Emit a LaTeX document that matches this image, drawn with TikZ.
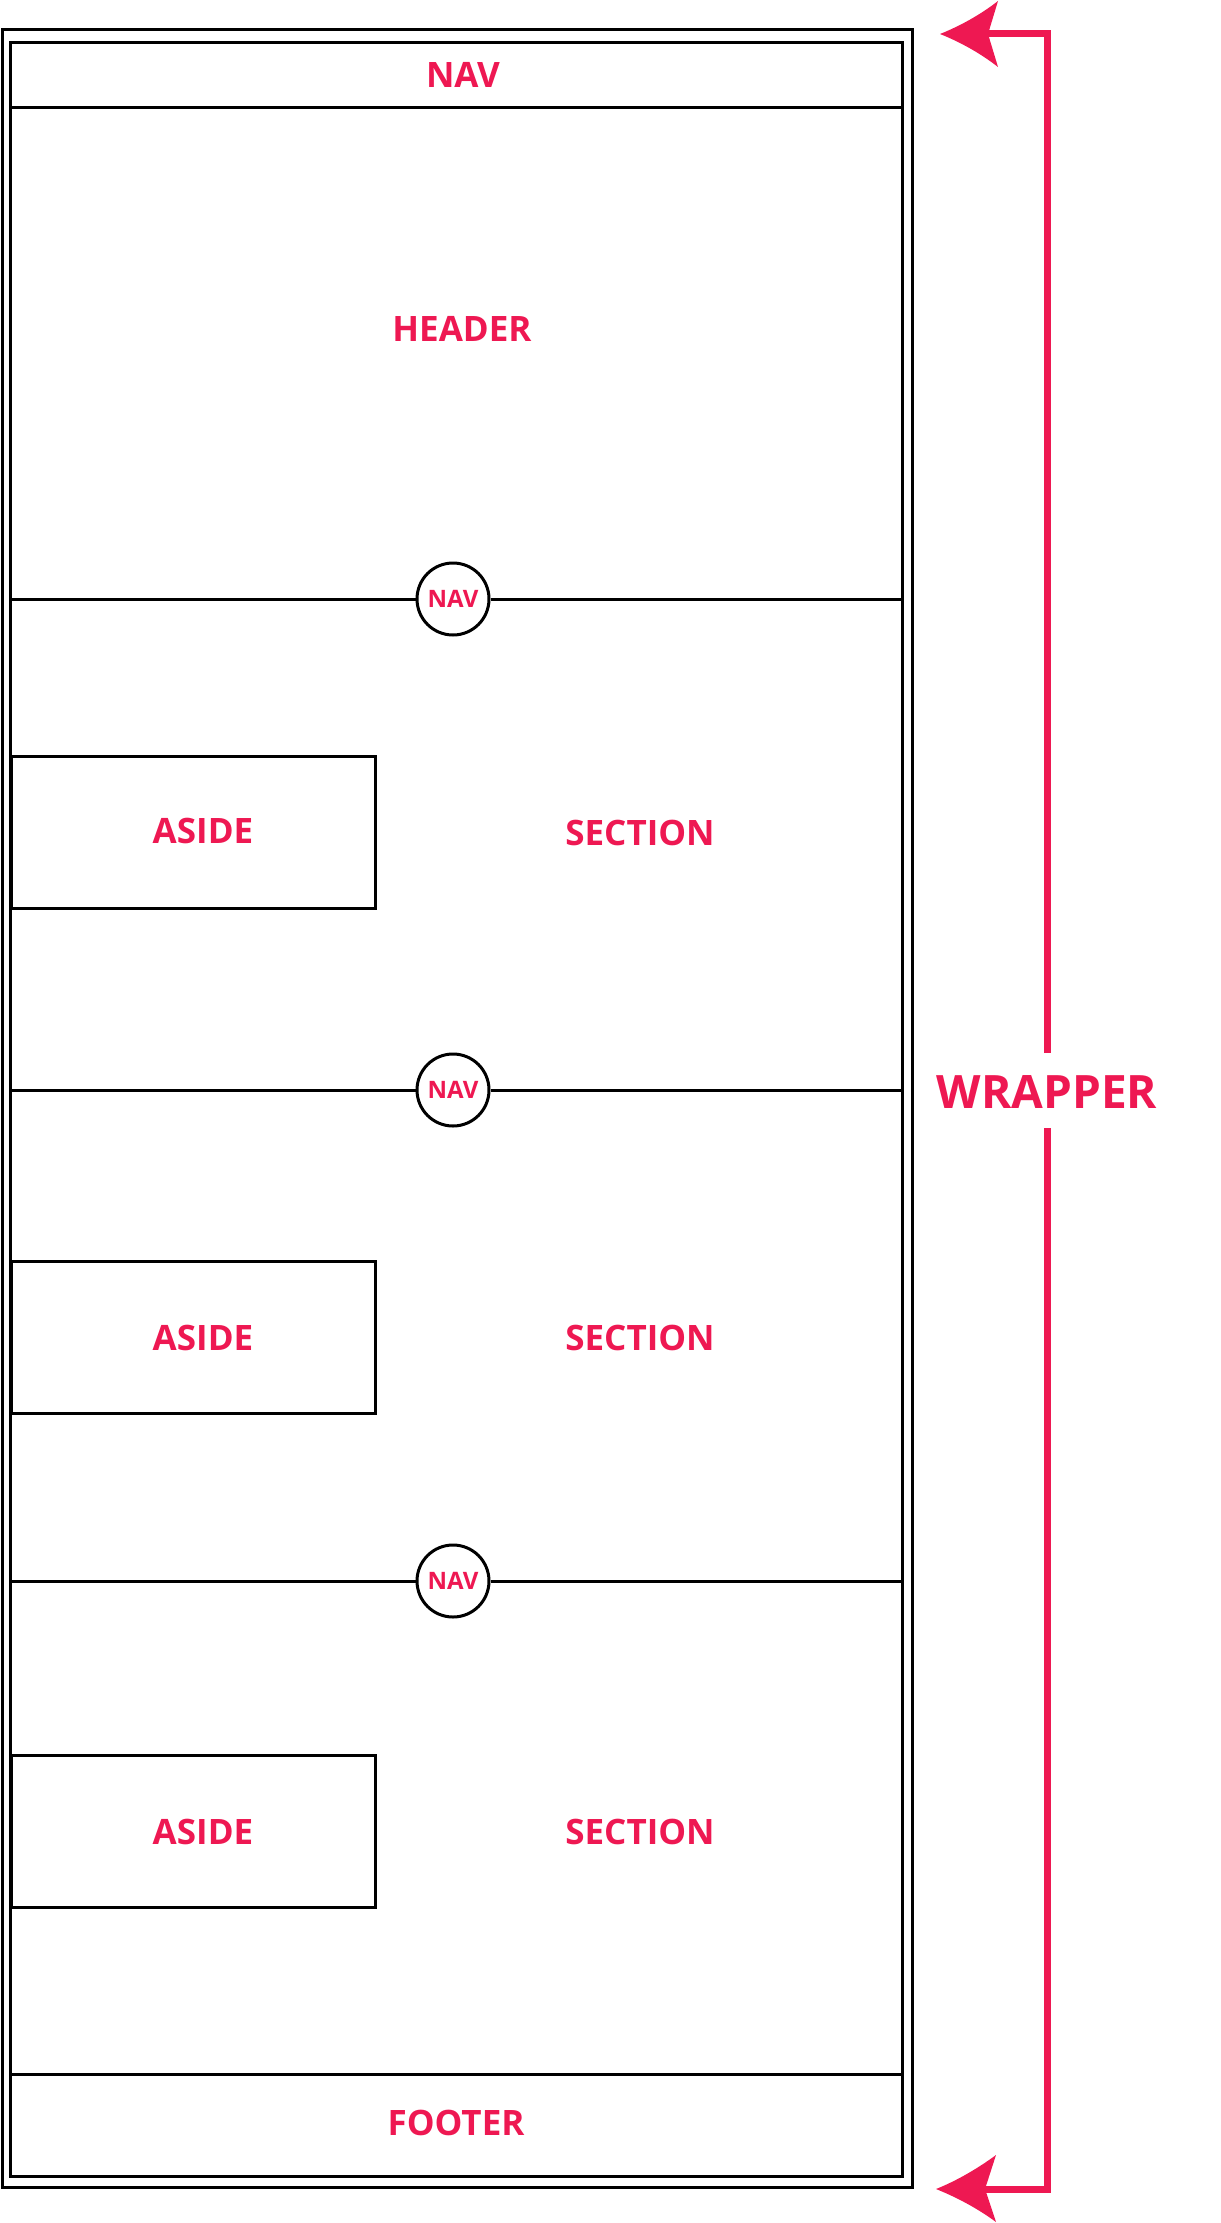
\documentclass[tikz,border=0pt]{standalone}
\usepackage{fontspec}
\setmainfont{Open Sans}
\definecolor{pink}{RGB}{238,24,82}
\begin{document}
\begin{tikzpicture}[x=1pt,y=-1pt,
  lbl/.style={text=pink,font=\bfseries\fontsize{35}{40}\selectfont,inner sep=0pt},
  smalllbl/.style={text=pink,font=\bfseries\fontsize{24}{28}\selectfont,inner sep=0pt},
  frame/.style={draw=black,line width=3pt},
  navcircle/.style={frame,circle,fill=white,minimum size=72pt,inner sep=0pt},
  asidebox/.style={frame,anchor=north west,minimum width=364pt,minimum height=152pt,inner sep=0pt},
  wrap/.style={draw=pink,line width=7pt,line join=miter},
  headfill/.style={fill=pink}]
\useasboundingbox (0,0) rectangle (1220,2223);
% frames
\draw[frame] (2,30) rectangle (912,2187);
\draw[frame] (10,43) rectangle (902,2176);
% top nav band and footer band
\coordinate (navL) at (10,108); \coordinate (navR) at (902,108);
\draw[frame] (navL) -- (navR);
\coordinate (footL) at (10,2074); \coordinate (footR) at (902,2074);
\draw[frame] (footL) -- (footR);
% separator lines with circles
\foreach \i/\yy in {1/599,2/1090,3/1581}{
  \coordinate (sL\i) at (10,\yy);
  \coordinate (sR\i) at (902,\yy);
  \node[navcircle] (c\i) at (453,\yy) {};
  \draw[frame] (sL\i) -- (c\i.west);
  \draw[frame] (c\i.east) -- (sR\i);
  \node[smalllbl] (ct\i) at (453,\yy) {NAV};
}
% aside boxes
\node[asidebox] (a1) at (10,755) {};
\node[asidebox] (a2) at (10,1260) {};
\node[asidebox] (a3) at (10,1754) {};
% labels
\node[lbl] (navtxt) at (463,75) {NAV};
\node[lbl] (header) at (462,329) {HEADER};
\node[lbl] (at1) at (203,831) {ASIDE};
\node[lbl] (st1) at (640,833) {SECTION};
\node[lbl] (at2) at (203,1338) {ASIDE};
\node[lbl] (st2) at (640,1338) {SECTION};
\node[lbl] (at3) at (203,1832) {ASIDE};
\node[lbl] (st3) at (640,1832) {SECTION};
\node[lbl] (footer) at (456,2123) {FOOTER};
% wrapper
\node[text=pink,font=\bfseries\fontsize{46}{52}\selectfont,inner sep=0pt] (wl) at (1047,1092) {WRAPPER};
\coordinate (wtopstart) at (1047,1053);
\coordinate (wtopend) at (984,34);
\coordinate (wbotstart) at (1047,1128);
\coordinate (wbotend) at (981,2189);
\draw[wrap] (wtopstart) |- (wtopend);
\draw[wrap] (wbotstart) |- (wbotend);
% arrowheads
\fill[headfill] (940,34) .. controls (960,26) and (980,15) .. (998,1)
  -- (988,34) -- (998,67) .. controls (980,53) and (960,42) .. (940,34) -- cycle;
\fill[headfill] (936,2189) .. controls (956,2181) and (977,2169) .. (996,2155)
  -- (985,2189) -- (996,2222) .. controls (977,2208) and (956,2197) .. (936,2189) -- cycle;
\end{tikzpicture}
\end{document}
